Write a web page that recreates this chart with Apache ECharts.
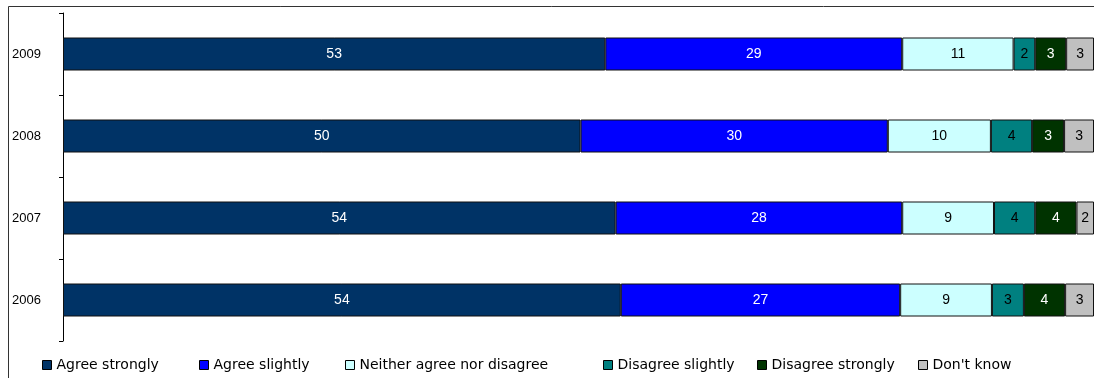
<!DOCTYPE html>
<html>
<head>
<meta charset="utf-8">
<script src="https://cdn.jsdelivr.net/npm/echarts@6/dist/echarts.min.js"></script>
<style>
  html, body { margin: 0; padding: 0; background: #fff; }
  #chart { width: 1094px; height: 378px; }
</style>
</head>
<body>
<div id="chart"></div>
<script>
// survey years, top to bottom
const years = ['2009', '2008', '2007', '2006']

// percentages per answer (labels show them rounded)
const agreeStrongly = [52.6, 50.2, 53.6, 54.1]
const agreeSlightly = [28.8, 29.8, 27.8, 27.1]
const neither = [10.8, 10.0, 8.9, 8.9]
const disagreeSlightly = [2.1, 4.0, 4.0, 3.1]
const disagreeStrongly = [3.0, 3.1, 4.0, 4.0]
const dontKnow = [2.7, 2.9, 1.7, 2.8]

const seriesNames = ['Agree strongly', 'Agree slightly', 'Neither agree nor disagree',
  'Disagree slightly', 'Disagree strongly', "Don't know"]
const seriesData = [agreeStrongly, agreeSlightly, neither, disagreeSlightly, disagreeStrongly, dontKnow]
const colors = ['#003366', '#0000ff', '#ccffff', '#008080', '#003300', '#c0c0c0']
const labelColors = ['#fff', '#fff', '#000', '#000', '#fff', '#000']
const legendLeft = [42, 199, 345, 603, 757, 918]

const chart = echarts.init(document.getElementById('chart'))

chart.setOption({
  animation: false,
  // outer frame of the original chart area
  graphic: [{
    type: 'rect',
    silent: true,
    shape: { x: 8.5, y: 6.5, width: 1200, height: 500 },
    style: { fill: null, stroke: '#333', lineWidth: 1 }
  }],
  grid: {
    left: 63,
    right: 0,
    top: 13,
    bottom: 37,
    containLabel: false
  },
  legend: seriesNames.map((name, i) => ({
    data: [name],
    left: legendLeft[i],
    top: 358,
    padding: 0,
    itemWidth: 9,
    itemHeight: 9,
    icon: 'rect',
    itemStyle: { borderColor: '#000', borderWidth: 1 },
    textStyle: { fontFamily: 'DejaVu Sans', fontSize: 14, color: '#000' }
  })),
  xAxis: {
    type: 'value',
    min: 0,
    max: 100,
    show: false
  },
  yAxis: {
    type: 'category',
    data: years,
    inverse: true,
    axisLine: { lineStyle: { color: '#000', width: 1 } },
    axisTick: { show: true, length: 4, lineStyle: { color: '#000' } },
    axisLabel: {
      margin: 22,
      color: '#000',
      fontFamily: 'Liberation Sans',
      fontSize: 13
    }
  },
  series: seriesNames.map((name, i) => ({
    name: name,
    type: 'bar',
    stack: 'total',
    barWidth: 33,
    itemStyle: {
      color: colors[i],
      borderColor: '#111',
      borderWidth: 1
    },
    label: {
      show: true,
      position: 'inside',
      color: labelColors[i],
      fontFamily: 'Liberation Sans',
      fontSize: 14,
      formatter: p => Math.round(p.value)
    },
    data: seriesData[i]
  }))
})
</script>
</body>
</html>
